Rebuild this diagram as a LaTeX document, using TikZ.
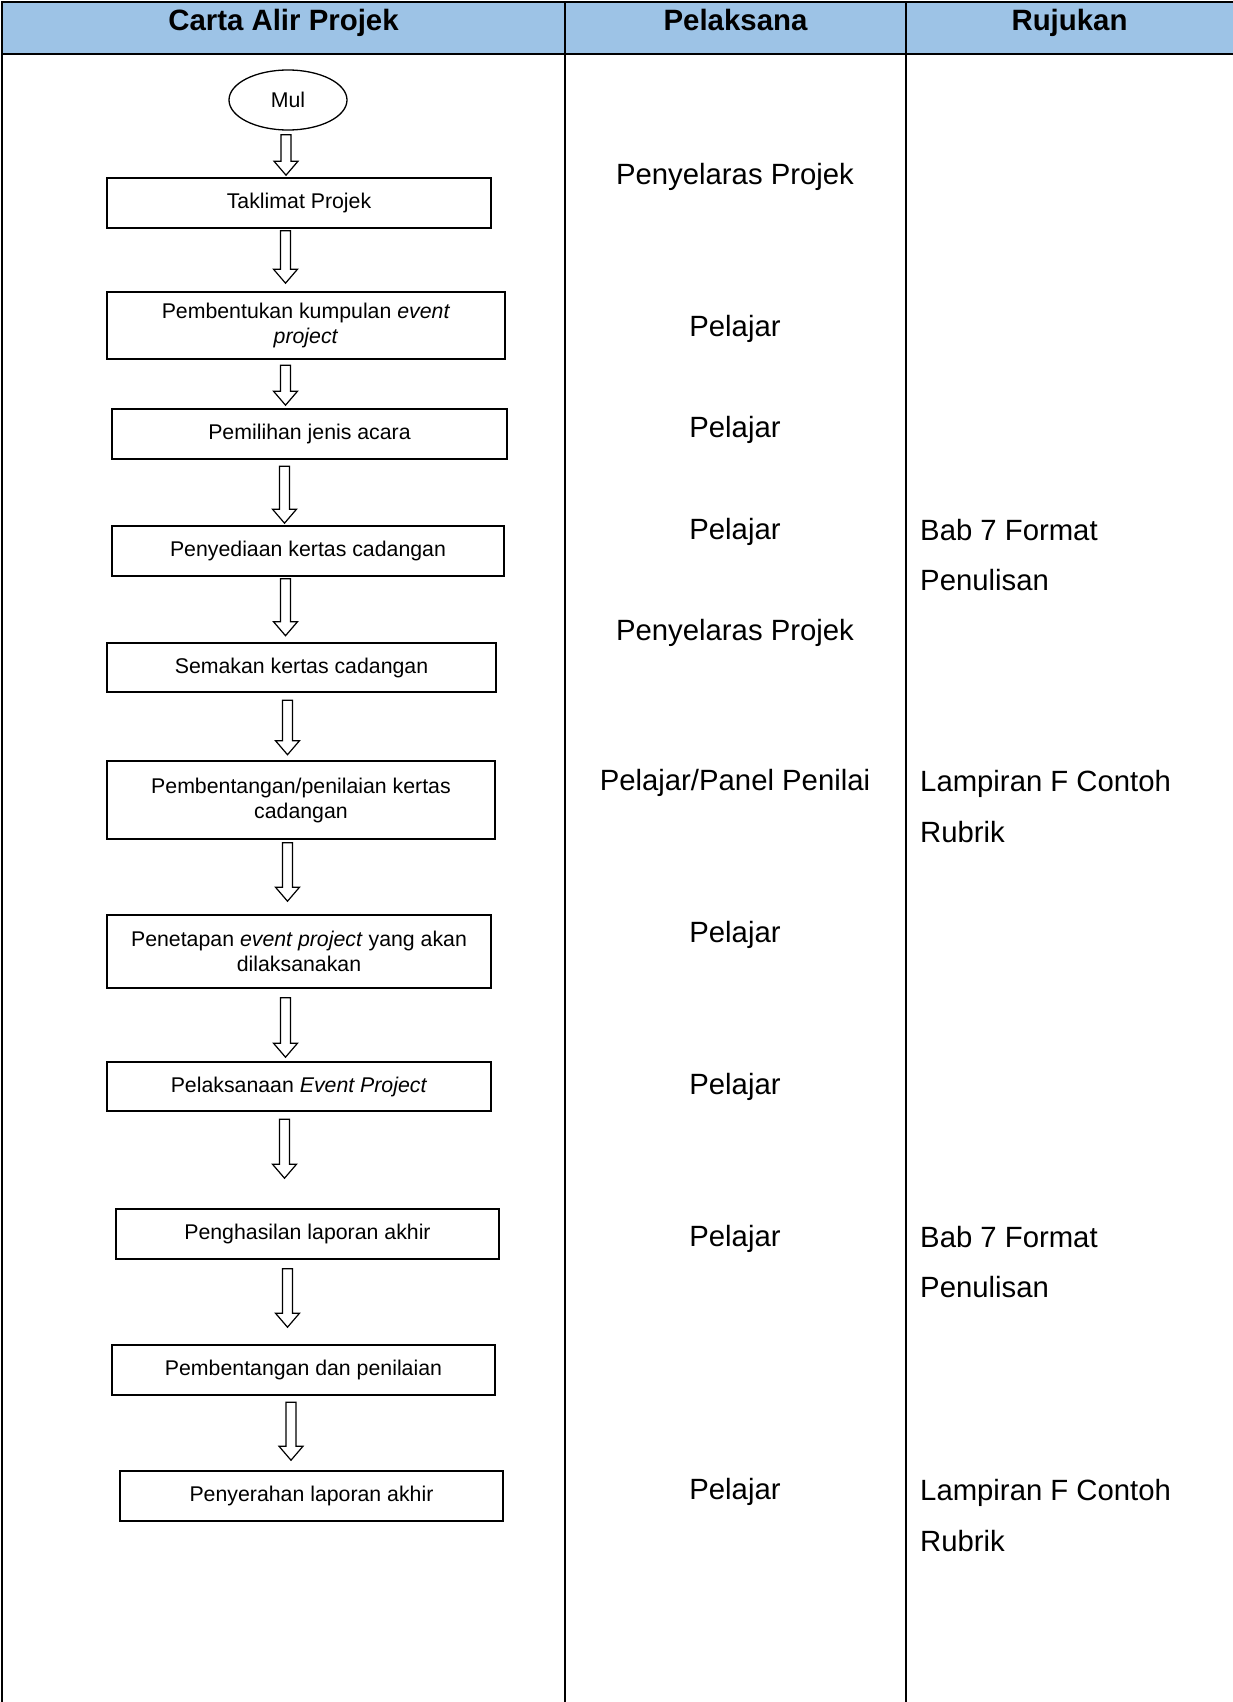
\documentclass[tikz,border=0pt]{standalone}
\usepackage{fontspec}
\setmainfont{Liberation Sans}
\usepackage{xcolor}
\usepackage{tikz}
\usetikzlibrary{shapes.geometric,calc}

\definecolor{headblue}{RGB}{157,195,230}

% hollow block arrow: x position, upper node, lower node, top gap, tip gap
\newcommand{\flowarrow}[5]{%
  \draw[arrowline] let \p1=(#2.south), \p2=(#3.north) in
    (#1pt-5pt,\y1-#4pt) -- (#1pt-5pt,\y2+#5pt+14pt) -- (#1pt-12pt,\y2+#5pt+14pt)
    -- (#1pt,\y2+#5pt) -- (#1pt+12pt,\y2+#5pt+14pt) -- (#1pt+5pt,\y2+#5pt+14pt)
    -- (#1pt+5pt,\y1-#4pt) -- cycle;}

\begin{document}
\begin{tikzpicture}[x=1pt, y=-1pt,
  flowbox/.style={draw, line width=1.6pt, inner sep=0pt, align=center,
    font=\fontsize{21.3}{25}\selectfont},
  startnode/.style={draw, ellipse, line width=1.3pt, inner sep=0pt,
    font=\fontsize{21.3}{25}\selectfont},
  arrowline/.style={line width=1.2pt, fill=white},
  headtext/.style={anchor=base, font=\fontsize{29.4}{35}\selectfont\bfseries},
  celltext/.style={font=\fontsize{29.3}{35}\selectfont},
  reftext/.style={anchor=base west, inner sep=0pt, font=\fontsize{29.3}{35}\selectfont}]

\useasboundingbox (0,0) rectangle (1233,1702);

% Header row
\fill[headblue] (2,2) rectangle (1233,54);
\draw[line width=2pt] (1233,2) -- (2,2) -- (2,1702);
\draw[line width=2pt] (2,54) -- (1233,54);
\draw[line width=2pt] (565,2) -- (565,1702);
\draw[line width=2pt] (906,2) -- (906,1702);
\node[headtext] (hflow) at (283.5,31) {Carta Alir Projek};
\node[headtext] (hexec) at (735.5,31) {Pelaksana};
\node[headtext] (hrefs) at (1069.5,31) {Rujukan};

% Flow chart
\node[startnode, minimum width=118pt, minimum height=60pt] (mula) at (288,100) {Mul};
\node[flowbox, minimum width=384pt, minimum height=50pt] (taklimat) at (299,203) {Taklimat Projek};
\node[flowbox, minimum width=398pt, minimum height=67pt] (kumpulan) at (306,325.5) {Pembentukan kumpulan \textit{event}\\ \textit{project}};
\node[flowbox, minimum width=395pt, minimum height=50pt] (pemilihan) at (309.5,434) {Pemilihan jenis acara};
\node[flowbox, minimum width=392pt, minimum height=50pt] (penyediaan) at (308,551) {Penyediaan kertas cadangan};
\node[flowbox, minimum width=389pt, minimum height=49pt] (semakan) at (301.5,667.5) {Semakan kertas cadangan};
\node[flowbox, minimum width=388pt, minimum height=78pt] (penilaian) at (301,800) {Pembentangan/penilaian kertas\\ cadangan};
\node[flowbox, minimum width=384pt, minimum height=73pt] (penetapan) at (299,951.5) {Penetapan \textit{event project} yang akan\\ dilaksanakan};
\node[flowbox, minimum width=384pt, minimum height=49pt] (pelaksanaan) at (299,1086.5) {Pelaksanaan \textit{Event Project}};
\node[flowbox, minimum width=383pt, minimum height=50pt] (laporan) at (307.5,1234) {Penghasilan laporan akhir};
\node[flowbox, minimum width=383pt, minimum height=50pt] (pembentangan) at (303.5,1370) {Pembentangan dan penilaian};
\node[flowbox, minimum width=383pt, minimum height=50pt] (penyerahan) at (311.5,1496) {Penyerahan laporan akhir};

% Arrows between steps
\flowarrow{286}{mula}{taklimat}{4}{2}
\flowarrow{285.5}{taklimat}{kumpulan}{2}{8}
\flowarrow{285.5}{kumpulan}{pemilihan}{5.5}{3}
\flowarrow{284.5}{pemilihan}{penyediaan}{6.5}{2}
\flowarrow{285.5}{penyediaan}{semakan}{2}{6.5}
\flowarrow{287.5}{semakan}{penilaian}{7.5}{5.5}
\flowarrow{287.5}{penilaian}{penetapan}{3}{13}
\flowarrow{285.5}{penetapan}{pelaksanaan}{9}{4}
\flowarrow{284.5}{pelaksanaan}{laporan}{7.5}{30}
\flowarrow{287.5}{laporan}{pembentangan}{9}{17}
\flowarrow{291}{pembentangan}{penyerahan}{6.5}{10}

% Pelaksana column
\node[celltext] (exec1) at (735,177) {Penyelaras Projek};
\node[celltext] (exec2) at (735,329) {Pelajar};
\node[celltext] (exec3) at (735,430) {Pelajar};
\node[celltext] (exec4) at (735,532) {Pelajar};
\node[celltext] (exec5) at (735,633) {Penyelaras Projek};
\node[celltext] (exec6) at (735,783) {Pelajar/Panel Penilai};
\node[celltext] (exec7) at (735,935) {Pelajar};
\node[celltext] (exec8) at (735,1087) {Pelajar};
\node[celltext] (exec9) at (735,1239) {Pelajar};
\node[celltext] (exec10) at (735,1492) {Pelajar};

% Rujukan column
\node[reftext] (ref1a) at (920,540) {Bab 7 Format};
\node[reftext] (ref1b) at (920,590) {Penulisan};
\node[reftext] (ref2a) at (920,791) {Lampiran F Contoh};
\node[reftext] (ref2b) at (920,842) {Rubrik};
\node[reftext] (ref3a) at (920,1247) {Bab 7 Format};
\node[reftext] (ref3b) at (920,1297) {Penulisan};
\node[reftext] (ref4a) at (920,1500) {Lampiran F Contoh};
\node[reftext] (ref4b) at (920,1551) {Rubrik};

\end{tikzpicture}
\end{document}
